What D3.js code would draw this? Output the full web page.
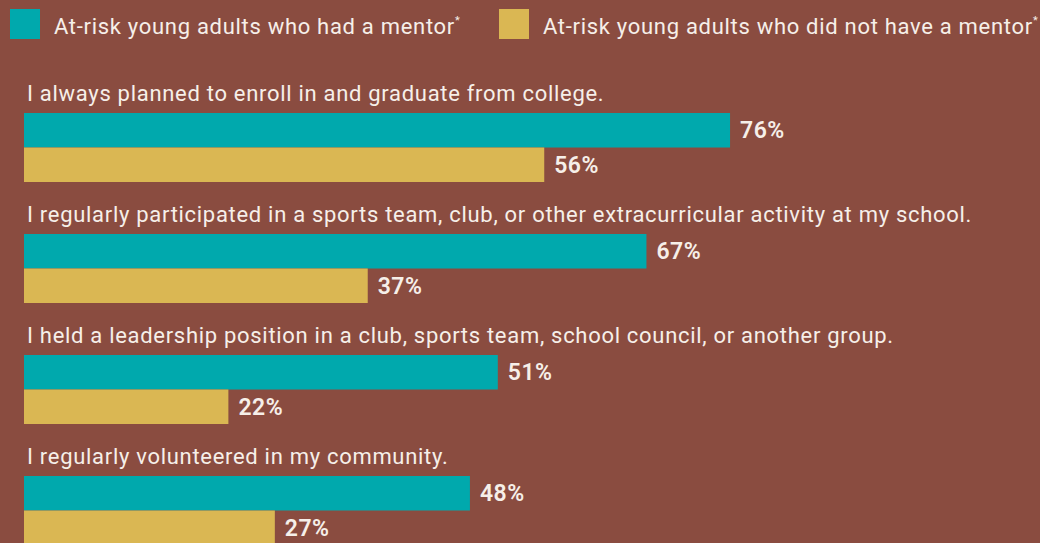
<!DOCTYPE html>
<html>
<head>
<meta charset="utf-8">
<script src="https://cdn.jsdelivr.net/npm/d3@7"></script>
<style>
  body { margin: 0; background: #8a4c40; }
  svg { display: block; }
</style>
</head>
<body>
<div id="chart"></div>
<script>
/* Mentoring outcomes - grouped horizontal bars */

const questions = [
    "I always planned to enroll in and graduate from college.",
    "I regularly participated in a sports team, club, or other extracurricular activity at my school.",
    "I held a leadership position in a club, sports team, school council, or another group.",
    "I regularly volunteered in my community."
];
const seriesNames = [
    "At-risk young adults who had a mentor",
    "At-risk young adults who did not have a mentor"
];
const withMentor = [76, 67, 51, 48];
const withoutMentor = [56, 37, 22, 27];
const colors = ["#00a9ad", "#dab753"];

const width = 1040,
    height = 543,
    margin = ({ top: 78, left: 24 });

const data = questions.map((q, i) => ({
    question: q,
    values: [
        { series: seriesNames[0], value: withMentor[i] },
        { series: seriesNames[1], value: withoutMentor[i] }
    ]
}));

let svg = d3.select("#chart")
    .append("svg")
    .attr("width", width)
    .attr("height", height)
    .style("font-family", "Roboto, sans-serif");

svg.append("rect")
    .attr("width", width)
    .attr("height", height)
    .attr("fill", "#8a4c40");

const x = d3.scaleLinear()
    .domain([0, 100])
    .range([margin.left, 953]);

const y = d3.scaleBand() // one band per question
    .domain(questions)
    .range([margin.top, margin.top + 121 * questions.length]);

const ySeries = d3.scaleBand()
    .domain(seriesNames)
    .range([35, 104]);

const color = d3.scaleOrdinal()
    .domain(seriesNames)
    .range(colors);

// legend
const legendX = [10, 499];
let legend = svg.selectAll(".legend")
    .data(seriesNames)
    .join("g")
    .attr("class", "legend")
    .attr("transform", (d, i) => `translate(${legendX[i]},9)`);

legend.append("rect")
    .attr("width", 30)
    .attr("height", 30)
    .attr("fill", d => color(d));

let lt = legend.append("text")
    .attr("x", 44)
    .attr("y", 25)
    .style("font-size", "22px")
    .style("letter-spacing", "0.7px")
    .style("fill", "#f6efe9");
lt.append("tspan").text(d => d);
lt.append("tspan")
    .attr("dy", -10)
    .style("font-size", "11px")
    .text("*");

let group = svg.selectAll(".group")
    .data(data)
    .join("g")
    .attr("class", "group")
    .attr("transform", d => `translate(0,${y(d.question)})`);

group.append("text")
    .attr("x", 27)
    .attr("y", 23)
    .style("font-size", "22px")
    .style("letter-spacing", "0.7px")
    .style("fill", "#f6efe9")
    .text(d => d.question);

let bar = group.selectAll(".bar")
    .data(d => d.values)
    .join("g")
    .attr("class", "bar");

bar.append("rect")
    .attr("x", x(0))
    .attr("y", d => ySeries(d.series))
    .attr("width", d => x(d.value) - x(0))
    .attr("height", ySeries.bandwidth())
    .attr("fill", d => color(d.series));

bar.append("text")
    .attr("x", d => x(d.value) + 10)
    .attr("y", d => ySeries(d.series) + ySeries.bandwidth() / 2 + 8)
    .style("font-size", "23px")
    .style("font-weight", "600")
    .style("letter-spacing", "0.5px")
    .style("fill", "#f6efe9")
    .text(d => d.value + "%");
</script>
</body>
</html>
